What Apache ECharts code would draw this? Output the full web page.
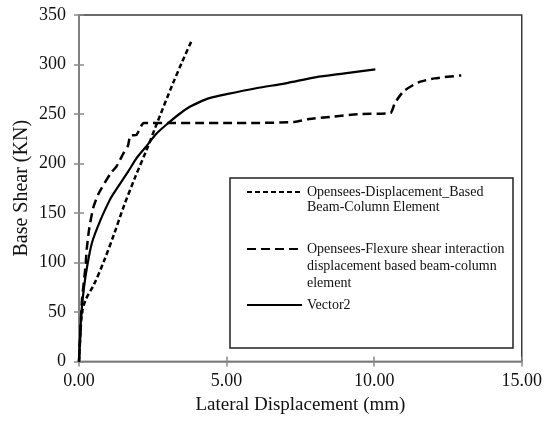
<!DOCTYPE html>
<html>
<head>
<meta charset="utf-8">
<script src="https://cdn.jsdelivr.net/npm/echarts@6/dist/echarts.min.js"></script>
<style>html,body{margin:0;padding:0;background:#fff;}#c{width:545px;height:425px;}</style>
</head>
<body>
<div id="c"></div>
<script>
// Series names
const seriesNames = [
  'Opensees-Displacement_Based Beam-Column Element',
  'Opensees-Flexure shear interaction displacement based beam-column element',
  'Vector2'
];
const legendLabels = [
  'Opensees-Displacement_Based\nBeam-Column Element',
  'Opensees-Flexure shear interaction\ndisplacement based beam-column\nelement',
  'Vector2'
];
// Lateral displacement (mm), base shear (KN)
const dispBasedX = [0, 0.05, 0.1, 0.22, 0.51, 0.84, 1.18, 1.52, 1.9, 2.28, 2.62, 3.17, 3.5, 3.8];
const dispBasedY = [0, 28, 49, 62, 78, 101, 128, 157, 186, 213, 239, 280, 303, 323];
const flexShearX = [0, 0.05, 0.1, 0.22, 0.26, 0.34, 0.48, 0.67, 1.07, 1.27, 1.5, 1.66, 1.74, 1.95, 2.2, 3, 4, 5, 6, 7.3, 7.8, 8.5, 9.5, 10.55, 10.7, 11.0, 11.5, 12.05, 12.95];
const flexShearY = [0, 32, 62, 96, 113, 133, 155, 170, 190, 197, 210, 218, 228, 229, 241, 241, 241, 241, 241, 242, 245, 247, 250, 251, 261, 273, 282, 286, 289];
const vector2X = [0, 0.04, 0.08, 0.17, 0.27, 0.44, 0.73, 1.04, 1.18, 1.69, 1.94, 2.3, 2.62, 3.07, 3.4, 3.74, 4.08, 4.42, 5, 6, 7, 8, 9, 10.04];
const vector2Y = [0, 25, 49, 75, 95, 120, 143, 163, 170, 193, 205, 218, 230, 242, 250, 257, 262, 266, 270, 276, 281, 287, 291, 295];
// Axis settings
const xMin = 0, xMax = 15, xStep = 5;
const yMin = 0, yMax = 350, yStep = 50;

const zip = (xs, ys) => xs.map((x, i) => [x, ys[i]]);
const FONT = '"Liberation Serif", "Times New Roman", serif';

const chart = echarts.init(document.getElementById('c'));
const axisGray = '#8a8a8a';

const legendTops = [169.5, 206.5, 296.5];
const legendLH = [15, 17, 17];

const option = {
  backgroundColor: '#fff',
  animation: false,
  grid: { left: 79, right: 21, top: 15, bottom: 63.5, show: true, borderColor: '#3a3a3a', borderWidth: 1.5, backgroundColor: 'transparent' },
  xAxis: [{
    type: 'value', min: xMin, max: xMax, interval: xStep,
    name: 'Lateral Displacement (mm)', nameLocation: 'middle', nameGap: 33,
    nameTextStyle: { fontFamily: FONT, fontSize: 19, color: '#111' },
    axisLine: { lineStyle: { color: axisGray, width: 1.5 } },
    axisTick: { show: true, length: 5, lineStyle: { color: axisGray, width: 1.5 } },
    axisLabel: { fontFamily: FONT, fontSize: 18, color: '#111', margin: 11, formatter: v => v.toFixed(2) },
    splitLine: { show: false }
  }, {
    type: 'value', min: xMin, max: xMax, interval: xStep, position: 'bottom',
    axisLine: { show: false },
    axisTick: { show: true, inside: true, length: 5, lineStyle: { color: axisGray, width: 1.5 } },
    axisLabel: { show: false }, splitLine: { show: false }
  }],
  yAxis: [{
    type: 'value', min: yMin, max: yMax, interval: yStep,
    name: 'Base Shear (KN)', nameLocation: 'middle', nameGap: 47, nameMoveOverlap: false,
    nameTextStyle: { fontFamily: FONT, fontSize: 20, color: '#111' },
    axisLine: { show: true, lineStyle: { color: axisGray, width: 1.5 } },
    axisTick: { show: true, length: 5, lineStyle: { color: axisGray, width: 1.5 } },
    axisLabel: { fontFamily: FONT, fontSize: 18, color: '#111', margin: 13 },
    splitLine: { show: false }
  }, {
    type: 'value', min: yMin, max: yMax, interval: yStep, position: 'left',
    axisLine: { show: false },
    axisTick: { show: true, inside: true, length: 5, lineStyle: { color: axisGray, width: 1.5 } },
    axisLabel: { show: false }, splitLine: { show: false }
  }],
  legend: seriesNames.map((n, i) => ({
    data: [{ name: n }],
    left: 246, top: legendTops[i], padding: 0,
    itemWidth: 55, itemHeight: 14, orient: 'vertical',
    selectedMode: false,
    itemStyle: { opacity: 0 },
    formatter: name => {
      const lbl = legendLabels[seriesNames.indexOf(name)];
      const nLines = lbl.split('\n').length;
      return '\n'.repeat(nLines - 1) + lbl;
    },
    textStyle: { fontFamily: FONT, fontSize: 14, color: '#111', lineHeight: legendLH[i] }
  })),
  graphic: [{
    type: 'rect', shape: { x: 230, y: 178, width: 283, height: 170 },
    style: { fill: 'none', stroke: '#222', lineWidth: 1.5 }, z: 100
  }],
  series: [{
    name: seriesNames[0], type: 'line', data: zip(dispBasedX, dispBasedY),
    showSymbol: false, symbol: 'none', smooth: 0.3,
    lineStyle: { color: '#000', width: 2.5, type: [5, 3] }, itemStyle: { color: '#000' }
  }, {
    name: seriesNames[1], type: 'line', data: zip(flexShearX, flexShearY),
    showSymbol: false, symbol: 'none', smooth: 0.2,
    lineStyle: { color: '#000', width: 2.5, type: [9, 5] }, itemStyle: { color: '#000' }
  }, {
    name: seriesNames[2], type: 'line', data: zip(vector2X, vector2Y),
    showSymbol: false, symbol: 'none', smooth: 0.3,
    lineStyle: { color: '#000', width: 2.2, type: 'solid' }, itemStyle: { color: '#000' }
  }]
};
chart.setOption(option);
</script>
</body>
</html>
